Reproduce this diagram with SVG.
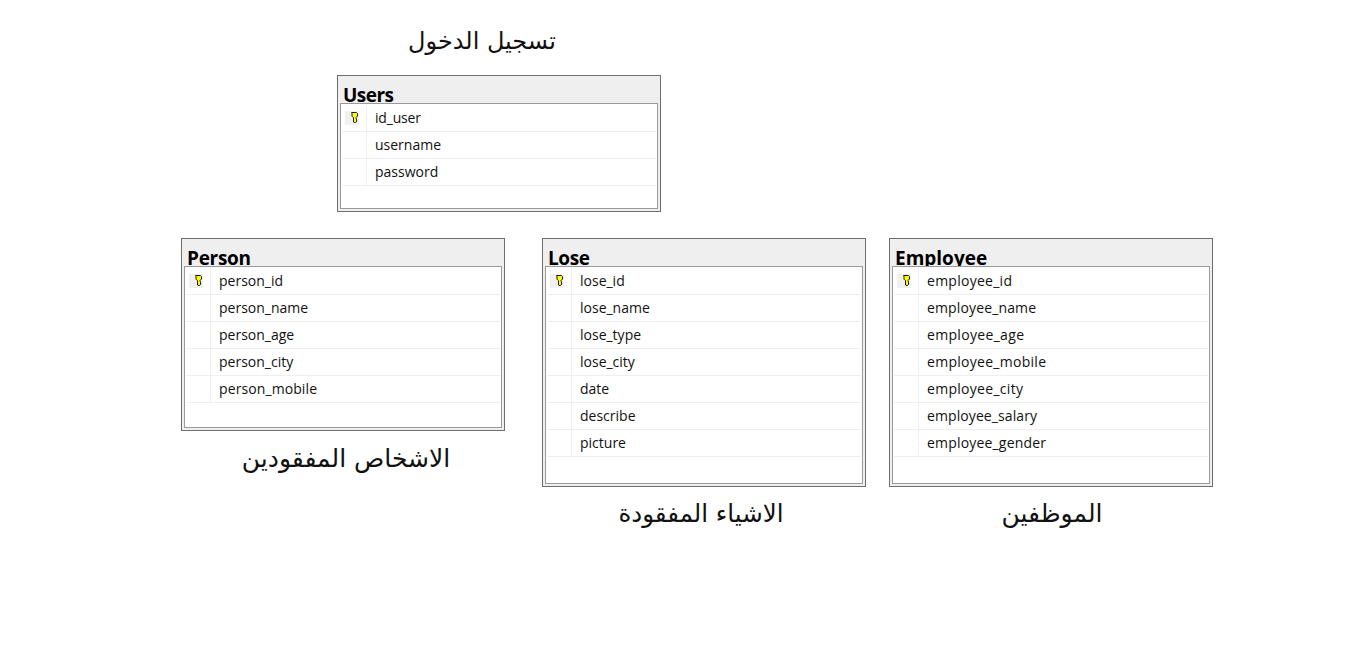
<svg xmlns="http://www.w3.org/2000/svg" width="1365" height="656" viewBox="0 0 1365 656">
<style>
.outer{fill:#efefef;stroke:#6e6e6e;stroke-width:1}
.inner{fill:#fff;stroke:#9a9a9a;stroke-width:1}
.grid{stroke:#efefef;stroke-width:1;fill:none}
.keybg{fill:#f0f0f0}
.keyi{fill:#ffff00;stroke:#1a1a1a;stroke-width:1}
.title{font:700 19px "Open Sans","Noto Sans","Liberation Sans",sans-serif;fill:#000}
.f{font:14px "Open Sans","Noto Sans","Liberation Sans",sans-serif;fill:#111}
.ar{font:25px "DejaVu Sans","Noto Sans",sans-serif;fill:#111;text-anchor:middle;direction:rtl}
</style>
<defs>
<g id="key">
<rect class="keybg" x="-9" y="-7" width="14" height="14"/>
<path class="keyi" d="M-2.500-5.500h5l1 1v2.500l-1.500 1.500v1l1 .7-1 .8 1 .8-1.500 1.700h-1.500l-.5-.5v-4.300l-1.500-1.500v-2.500z"/>
</g>
</defs>
<rect width="1365" height="656" fill="#fff"/>
<g id="connectors"/>
<g id="node-users">
<rect class="outer" x="337.500" y="75.500" width="323" height="136"/>
<text class="title" x="343" y="102" textLength="51">Users</text>
<rect class="inner" x="340.500" y="103.500" width="317" height="105"/>
<path class="grid" d="M342 131.500H656M342 158.500H656M342 185.500H656M366.500 105V185"/>
<use href="#key" x="354" y="118"/>
<text class="f" x="375" y="123" textLength="46">id_user</text>
<text class="f" x="375" y="150">username</text>
<text class="f" x="375" y="177">password</text>
</g>
<g id="node-person">
<rect class="outer" x="181.500" y="238.500" width="323" height="192"/>
<text class="title" x="187" y="265" textLength="64">Person</text>
<rect class="inner" x="184.500" y="266.500" width="317" height="161"/>
<path class="grid" d="M186 294.500H500M186 321.500H500M186 348.500H500M186 375.500H500M186 402.500H500M210.500 268V402"/>
<use href="#key" x="198" y="281"/>
<text class="f" x="219" y="286">person_id</text>
<text class="f" x="219" y="313">person_name</text>
<text class="f" x="219" y="340">person_age</text>
<text class="f" x="219" y="367">person_city</text>
<text class="f" x="219" y="394" textLength="98">person_mobile</text>
</g>
<g id="node-lose">
<rect class="outer" x="542.500" y="238.500" width="323" height="248"/>
<text class="title" x="548" y="265" textLength="42">Lose</text>
<rect class="inner" x="545.500" y="266.500" width="317" height="217"/>
<path class="grid" d="M547 294.500H861M547 321.500H861M547 348.500H861M547 375.500H861M547 402.500H861M547 429.500H861M547 456.500H861M571.500 268V456"/>
<use href="#key" x="559" y="281"/>
<text class="f" x="580" y="286">lose_id</text>
<text class="f" x="580" y="313">lose_name</text>
<text class="f" x="580" y="340">lose_type</text>
<text class="f" x="580" y="367">lose_city</text>
<text class="f" x="580" y="394">date</text>
<text class="f" x="580" y="421">describe</text>
<text class="f" x="580" y="448">picture</text>
</g>
<g id="node-employee">
<rect class="outer" x="889.500" y="238.500" width="323" height="248"/>
<text class="title" x="895" y="265">Employee</text>
<rect class="inner" x="892.500" y="266.500" width="317" height="217"/>
<path class="grid" d="M894 294.500H1208M894 321.500H1208M894 348.500H1208M894 375.500H1208M894 402.500H1208M894 429.500H1208M894 456.500H1208M918.500 268V456"/>
<use href="#key" x="906" y="281"/>
<text class="f" x="927" y="286" textLength="85">employee_id</text>
<text class="f" x="927" y="313" textLength="109">employee_name</text>
<text class="f" x="927" y="340" textLength="97">employee_age</text>
<text class="f" x="927" y="367" textLength="119">employee_mobile</text>
<text class="f" x="927" y="394" textLength="96">employee_city</text>
<text class="f" x="927" y="421" textLength="110">employee_salary</text>
<text class="f" x="927" y="448" textLength="119">employee_gender</text>
</g>
<g id="labels">
<text class="ar" x="482" y="49" style="font-size:24px">تسجيل الدخول</text>
<text class="ar" x="346" y="467">الاشخاص المفقودين</text>
<text class="ar" x="701" y="522" style="font-size:24.500px">الاشياء المفقودة</text>
<text class="ar" x="1052" y="522">الموظفين</text>
</g>
</svg>
